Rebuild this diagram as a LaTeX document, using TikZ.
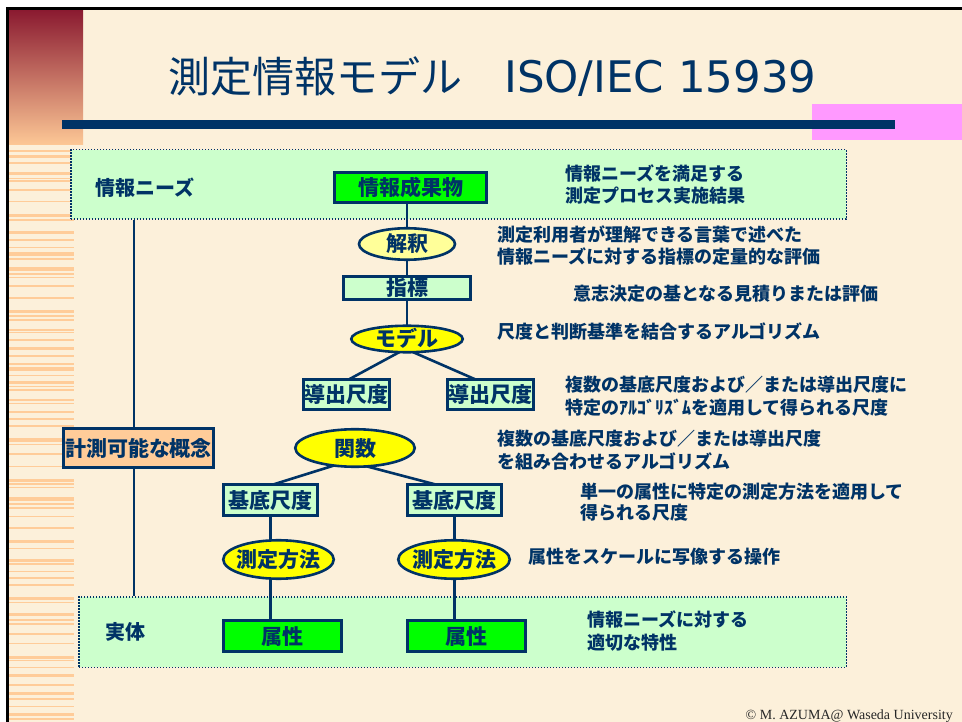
\documentclass[tikz,border=0pt]{standalone}
\usepackage{fontspec}
\setmainfont{Liberation Serif}
\newfontfamily\jp{Noto Sans CJK JP}
\newfontfamily\lat{DejaVu Sans}
\usetikzlibrary{shapes.geometric,calc}
\pgfdeclarelayer{back}
\pgfdeclarelayer{mid}
\pgfsetlayers{back,mid,main}
\definecolor{navy}{HTML}{003366}
\definecolor{cream}{HTML}{FCF0DA}
\definecolor{peach}{HTML}{FFCC99}
\definecolor{peachdeep}{HTML}{FDC896}
\definecolor{lgreen}{HTML}{CCFFCC}
\definecolor{bgreen}{HTML}{00FF00}
\definecolor{yel}{HTML}{FFFF00}
\definecolor{lyel}{HTML}{FFFF99}
\definecolor{pinkbar}{HTML}{FF99FF}
\definecolor{darkred}{HTML}{8A1A30}
\newcommand\zw[1]{\makebox[0pt]{#1}}
\tikzset{
  conn/.style={draw=navy, line width=2.6pt},
  nbox/.style={rectangle, draw=navy, line width=2.6pt, inner sep=0pt, text=navy,
    font=\jp\bfseries\fontsize{21}{21}\selectfont, text height=16pt, text depth=0pt},
  nell/.style={ellipse, draw=navy, line width=2.6pt, inner sep=0pt, text=navy,
    font=\jp\bfseries\fontsize{21}{21}\selectfont, text height=16pt, text depth=0pt},
  dotbox/.style={rectangle, draw=navy, fill=lgreen, line width=1.5pt,
    dash pattern=on 1.5pt off 1.5pt, inner sep=0pt},
  desc/.style={text=navy, font=\jp\bfseries\fontsize{18}{22}\selectfont, align=left,
    inner sep=0pt, anchor=west},
  grp/.style={text=navy, font=\jp\bfseries\fontsize{20}{20}\selectfont, inner sep=0pt,
    anchor=west, text height=15.2pt, text depth=0pt},
}
\begin{document}
\begin{tikzpicture}[x=1pt,y=-1pt]
\useasboundingbox (0,0) rectangle (962,722);
\begin{pgfonlayer}{back}
  \fill[white] (0,0) rectangle (962,722);
  \fill[cream] (8,10) rectangle (962,722);
  \shade[top color=darkred, bottom color=peachdeep] (9,10) rectangle (83,145);
  \foreach \yy/\tt in {150/1.7,155/3.5,162.3/1.7,171.7/3.3,177.7/1.3,180/1.7,189.3/1.3,
      201/1.3,214/3.3,219.3/1.3,231/2.7,239.3/1.7,246.7/1.3,251.7/4,258.3/1.7,267/3.7,
      273.3/1.7,276.7/1.3,285/1.7,297.3/1.7,310/3.3,315.3/2,319.3/1.3,329.3/1.3,331.7/1.7,
      339.3/1.7,347.3/2.7,355.3/1.7,363.3/1.3,367.3/3.3,374.7/1.7,381/3,385.7/1.7,389.3/1.3,
      399.3/1.3,402.7/1.3,411/1.7,417.7/2.3,425/1.7,438.3/3.3,444/1.3,453.3/1.3,465.7/1.3,
      479/2.7,483.3/1.7,486.7/1.3,497.3/3.3,503.3/1.3,507.3/1.3,516/1.3,527.3/1.3,540/2.7,
      547.7/1.7,559.3/2.3,563.3/1.3,570.7/1.3,576.7/2.7,584/2,596.7/3.3,601.7/1.7,612.7/3.3,
      619.3/2,623.3/1.3,633.3/1.3,642.7/1.3,656/2.7,660/1.3,666.7/1.3,674/3.3,684/2,
      691.7/3.3,698.3/1.7,706/1.3,712.7/3.3,718.3/1.7}
    {\fill[peach] (9,\yy) rectangle (74,\yy+\tt);}
  \fill[pinkbar] (812,104) rectangle (962,140);
  \fill[navy] (62,120) rectangle (895,129);
  \draw[black, line width=3pt] (7,722) -- (7,9) -- (962,9);
  \node[dotbox, minimum width=775.5, minimum height=69.5] (needs) at (458.5,184.5) {};
  \node[dotbox, minimum width=767.5, minimum height=70.5] (entity) at (462.5,632) {};
\end{pgfonlayer}

% title
\node[anchor=base west, inner sep=0pt, text=navy, font=\jp\fontsize{42}{42}\selectfont]
  (title) at (168,93) {測定情報モデル　{\lat\fontsize{43.5}{43.5}\selectfont ISO/IEC 15939}};

% group labels
\node[grp] (needslbl) at (95,188) {情報ニーズ};
\node[grp] (entitylbl) at (105,632) {実体};

% main nodes
\node[nbox, fill=bgreen, minimum width=152.5, minimum height=30.5] (prod) at (410.5,187.5) {情報成果物};
\node[nell, fill=lyel, minimum width=96, minimum height=31.5] (interp) at (407,244) {\zw{解釈}};
\node[nbox, fill=lgreen, minimum width=127.5, minimum height=23.5] (ind) at (407,288) {指標};
\node[nell, fill=yel, minimum width=111.5, minimum height=26.5] (model) at (407,339) {\zw{モデル}};
\node[nbox, fill=lgreen, minimum width=86.5, minimum height=30.5] (dl) at (346.5,394.5) {導出尺度};
\node[nbox, fill=lgreen, minimum width=86.5, minimum height=30.5] (dr) at (490.5,394.5) {導出尺度};
\node[nell, fill=yel, minimum width=119.5, minimum height=37.5] (func) at (355,448) {\zw{関数}};
\node[nbox, fill=lgreen, minimum width=94.5, minimum height=31.5] (bl) at (270.5,500) {基底尺度};
\node[nbox, fill=lgreen, minimum width=94.5, minimum height=31.5] (br) at (454.5,500) {基底尺度};
\node[nell, fill=yel, minimum width=110.5, minimum height=38.5] (ml) at (278.5,559.5) {\zw{測定方法}};
\node[nell, fill=yel, minimum width=111.5, minimum height=38.5] (mr) at (454,559.5) {\zw{測定方法}};
\node[nbox, fill=bgreen, minimum width=118.5, minimum height=31.5] (al) at (282.5,636) {属性};
\node[nbox, fill=bgreen, minimum width=118.5, minimum height=31.5] (ar) at (466.5,636) {属性};
\node[nbox, fill=peach, minimum width=150.5, minimum height=38.5] (concept) at (138.5,448) {計測可能な概念};

\coordinate (lx) at (134,448);

% connectors
\begin{pgfonlayer}{mid}
  \draw[conn] (interp.center |- prod.center) -- (model.center);
  \draw[conn] ($(model)+(16.6,0)$) -- ($(dl)+(-25.5,0)$);
  \draw[conn] ($(model)+(-24,0)$) -- ($(dr)+(19.4,0)$);
  \draw[conn] ($(dl)+(3.5,0)$) -- ($(dl)+(3.5,0)$ |- func.center);
  \draw[conn] ($(func)+(35,0)$) -- ($(bl)+(-14.9,-10)$);
  \draw[conn] ($(func)+(-20,10)$) -- ($(br)+(9.7,-8)$);
  \draw[conn] (bl.center) -- (bl.center |- al.center);
  \draw[conn] (br.center) -- (br.center |- ar.center);
  \draw[conn] (needs.south -| lx) -- (entity.north -| lx);
\end{pgfonlayer}

% descriptions
\node[desc] (d1) at (565,184.5) {情報ニーズを満足する\\測定プロセス実施結果};
\node[desc] (d2) at (497,246) {測定利用者が理解できる言葉で述べた\\情報ニーズに対する指標の定量的な評価};
\node[desc] (d3) at (573,294) {意志決定の基となる見積りまたは評価};
\node[desc] (d4) at (497,332) {尺度と判断基準を結合するアルゴリズム};
\node[desc, font=\jp\bfseries\fontsize{18}{23}\selectfont] (d5) at (565,396.5) {複数の基底尺度および／または導出尺度に\\特定のｱﾙｺﾞﾘｽﾞﾑを適用して得られる尺度};
\node[desc, font=\jp\bfseries\fontsize{18}{23}\selectfont] (d6) at (497,450.5) {複数の基底尺度および／または導出尺度\\を組み合わせるアルゴリズム};
\node[desc, font=\jp\bfseries\fontsize{18}{21}\selectfont] (d7) at (580,502.5) {単一の属性に特定の測定方法を適用して\\得られる尺度};
\node[desc] (d8) at (528,557) {属性をスケールに写像する操作};
\node[desc, font=\jp\bfseries\fontsize{18}{23}\selectfont] (d9) at (587,631.5) {情報ニーズに対する\\適切な特性};

% copyright
\node[anchor=base east, inner sep=0pt, text=black!85, font=\fontsize{14}{14}\selectfont]
  (copy) at (953,719) {\textcopyright\ M. AZUMA@ Waseda University};
\end{tikzpicture}
\end{document}
